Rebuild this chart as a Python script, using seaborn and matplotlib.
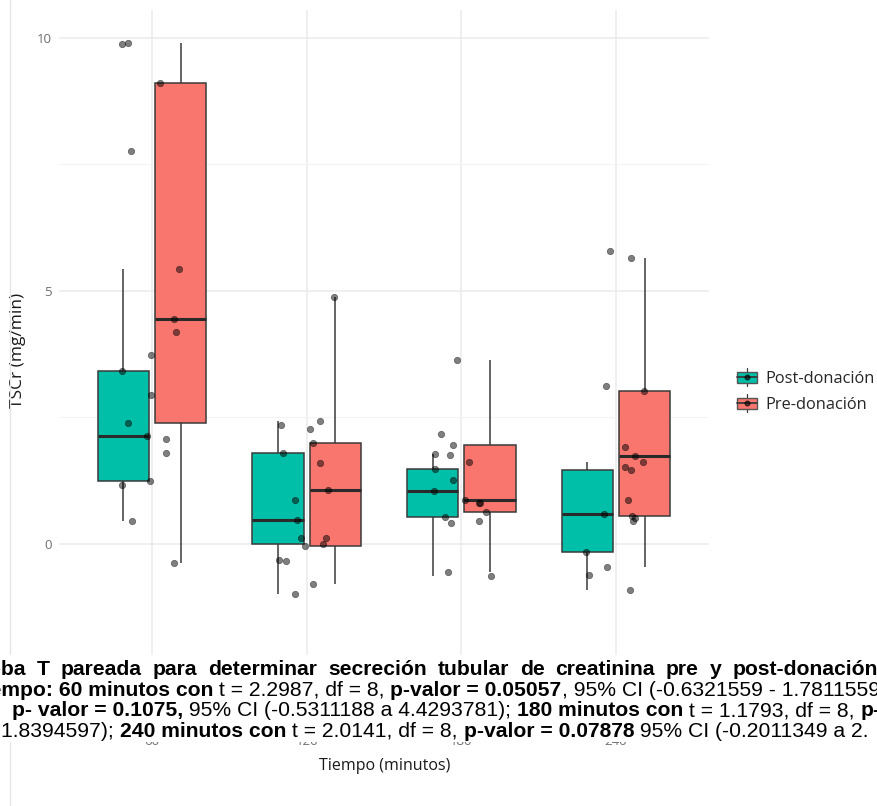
import matplotlib
matplotlib.use("Agg")
import matplotlib.pyplot as plt
from matplotlib.patches import Rectangle, Patch
from matplotlib.lines import Line2D
from matplotlib.legend_handler import HandlerBase
import numpy as np
import pandas as pd
import seaborn as sns

# ---- data: TSCr (mg/min) per subject, pre/post donation, per sampling time ----
times = ["60", "120", "180", "240"]
groups = ["Post-donación", "Pre-donación"]

post_60 = [0.46, 1.17, 1.24, 1.80, 2.13, 2.94, 3.41, 3.73, 5.43]
pre_60 = [-0.37, 2.07, 2.39, 4.19, 4.44, 7.77, 9.10, 9.88, 9.89]
post_120 = [-1.00, -0.35, 0.00, 0.12, 0.475, 0.86, 1.79, 2.35, 2.42]
pre_120 = [-0.79, -0.32, -0.05, 0.12, 1.055, 1.59, 2.00, 2.26, 4.87]
post_180 = [-0.63, 0.41, 0.52, 0.80, 1.05, 1.26, 1.48, 1.75, 1.78]
pre_180 = [-0.55, 0.45, 0.62, 0.80, 0.87, 1.61, 1.96, 2.16, 3.63]
post_240 = [-0.92, -0.61, -0.17, 0.45, 0.58, 0.87, 1.46, 1.61, 5.78]
pre_240 = [-0.46, 0.50, 0.55, 1.52, 1.73, 1.92, 3.02, 3.11, 5.65]

post = {"60": post_60, "120": post_120, "180": post_180, "240": post_240}
pre = {"60": pre_60, "120": pre_120, "180": pre_180, "240": pre_240}

rows = []
for t in times:
    for g, vals in ((groups[0], post[t]), (groups[1], pre[t])):
        for v in vals:
            rows.append((t, g, v))
df = pd.DataFrame(rows, columns=["tiempo", "grupo", "tscr"])

# ---- figure ----
W, H, DPI = 878, 806, 100
sns.set_style("white")
plt.rcParams["font.family"] = ["Open Sans", "DejaVu Sans"]

TEAL = "#00BFA8"
SALMON = "#F8766D"
EDGE = "#3a3a3a"

PANEL_TOP, PANEL_BOTTOM = 10, 732
fig = plt.figure(figsize=(W / DPI, H / DPI), dpi=DPI)
ax = fig.add_axes([59.2 / W, 1 - PANEL_BOTTOM / H, 649.6 / W,
                   (PANEL_BOTTOM - PANEL_TOP) / H])

sns.boxplot(
    data=df, x="tiempo", y="tscr", hue="grupo", order=times, hue_order=groups,
    palette=[TEAL, SALMON], saturation=1, width=0.74, gap=0.1,
    showfliers=False, showcaps=False, linewidth=1.1, linecolor=EDGE,
    medianprops={"linewidth": 2.2, "color": "#2a2a2a"}, legend=False, ax=ax,
)

np.random.seed(11)
sns.stripplot(
    data=df, x="tiempo", y="tscr", order=times, color="black", alpha=0.5,
    jitter=0.2, size=4.6, linewidth=0.5, edgecolor="black", ax=ax, zorder=5,
)

ax.set_xlim(-0.6, 3.6)
ax.set_ylim(-3.72, 10.55)
ax.set_yticks([0, 5, 10])
ax.set_yticks([-2.5, 2.5, 7.5], minor=True)
ax.set_xticks(range(len(times)))
ax.set_xticklabels(times)
ax.grid(which="major", color="#EBEBEB", linewidth=1.1)
ax.grid(which="minor", axis="y", color="#F3F3F3", linewidth=0.8)
ax.set_axisbelow(True)
for s in ax.spines.values():
    s.set_visible(False)
ax.tick_params(axis="both", which="both", length=0, labelsize=9.5, labelcolor="#707070")
ax.tick_params(axis="y", pad=5.2)
ax.tick_params(axis="x", pad=2.2)

span = PANEL_BOTTOM - PANEL_TOP
ax.set_xlabel("Tiempo (minutos)", fontsize=11.5, color="#1a1a1a")
ax.set_ylabel("TSCr (mg/min)", fontsize=12.5, color="#1a1a1a")
ax.xaxis.label.set_va("center")
ax.yaxis.label.set_va("center")
ax.xaxis.set_label_coords((385 - 59.2) / 649.6, (PANEL_BOTTOM - 766) / span)
ax.yaxis.set_label_coords((18 - 59.2) / 649.6, (PANEL_BOTTOM - 350) / span)


# legend keys drawn like small boxplots
class BoxKey(HandlerBase):
    def create_artists(self, legend, orig_handle, xdescent, ydescent,
                       width, height, fontsize, trans):
        x0, y0 = -xdescent, -ydescent
        xm, ym = x0 + width / 2, y0 + height / 2
        bh = height * 0.78
        whisk = Line2D([xm, xm], [y0 - 0.12 * height, y0 + 1.12 * height],
                       color=EDGE, lw=0.9, transform=trans)
        body = Rectangle((x0, ym - bh / 2), width, bh,
                         facecolor=orig_handle.get_facecolor(),
                         edgecolor="#555555", lw=1.0, transform=trans)
        med = Line2D([x0, x0 + width], [ym, ym], color=EDGE, lw=1.3,
                     transform=trans)
        dot = Line2D([xm], [ym], marker="o", ms=3.4, color="black",
                     alpha=0.6, lw=0, transform=trans)
        return [whisk, body, med, dot]


fig.legend(
    handles=[Patch(facecolor=TEAL), Patch(facecolor=SALMON)], labels=groups,
    handler_map={Patch: BoxKey()}, loc="center left",
    bbox_to_anchor=(737 / W, 1 - 391.5 / H), frameon=False, fontsize=11.8,
    handlelength=1.2, handleheight=1.0, handletextpad=0.55,
    labelspacing=0.55, borderpad=0, borderaxespad=0,
)

# faint vertical rule at the far left
fig.add_artist(Line2D([10 / W, 10 / W], [0, 1], transform=fig.transFigure,
                      color="#e6e6e6", lw=1.0, zorder=1))

# ---- caption with the paired t-test results ----
fig.patches.append(Rectangle((0, 1 - 742 / H), 1, 87 / H, transform=fig.transFigure,
                             facecolor="white", edgecolor="none", zorder=2))

CAP_FONT = ["Liberation Sans", "Arial", "DejaVu Sans"]
CAP_PT = 15.2
renderer = fig.canvas.get_renderer()


def advance(s, weight):
    a = fig.text(0, 0, "|" + s + "|", fontsize=CAP_PT, fontweight=weight, family=CAP_FONT)
    b = fig.text(0, 0, "||", fontsize=CAP_PT, fontweight=weight, family=CAP_FONT)
    w = a.get_window_extent(renderer).width - b.get_window_extent(renderer).width
    a.remove()
    b.remove()
    return w


def put(s, weight, x, base):
    fig.text(x / W, 1 - base / H, s, fontsize=CAP_PT, fontweight=weight,
             family=CAP_FONT, ha="left", va="baseline", color="black", zorder=3)


def run_line(runs, x, base):
    for s, weight in runs:
        put(s, weight, x, base)
        x += advance(s, weight)


BASE0, STEP = 675.0, 20.6

# first line: bold, justified
title_words = "Prueba T pareada para determinar secreción tubular de creatinina pre y post-donación".split()
x_start = 1 - advance("Prue", "bold")
x_end = 878
widths = [advance(w, "bold") for w in title_words]
gap = (x_end - x_start - sum(widths)) / (len(title_words) - 1)
x = x_start
for w, wd in zip(title_words, widths):
    put(w, "bold", x, BASE0)
    x += wd + gap

run_line([
    ("Tiempo: 60 minutos con", "bold"),
    (" t = 2.2987, df = 8, ", "normal"),
    ("p-valor = 0.05057", "bold"),
    (", 95% CI (-0.6321559 - 1.7811559)", "normal"),
], 1 - advance("Tie", "bold"), BASE0 + STEP)

run_line([
    ("p- valor = 0.1075,", "bold"),
    (" 95% CI (-0.5311188 a 4.4293781); ", "normal"),
    ("180 minutos con", "bold"),
    (" t = 1.1793, df = 8, ", "normal"),
    ("p-", "bold"),
], 12, BASE0 + 2 * STEP)

run_line([
    ("1.8394597); ", "normal"),
    ("240 minutos con", "bold"),
    (" t = 2.0141, df = 8, ", "normal"),
    ("p-valor = 0.07878", "bold"),
    (" 95% CI (-0.2011349 a 2.", "normal"),
], 1.5, BASE0 + 3 * STEP)

fig.savefig("out.png", dpi=DPI)
